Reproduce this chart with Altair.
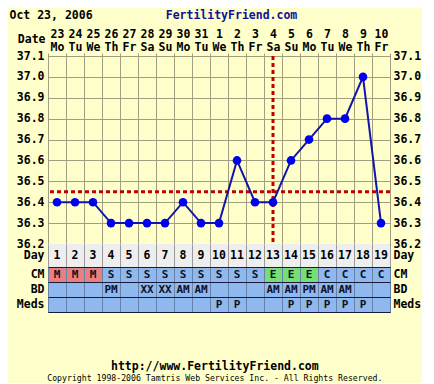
import altair as alt
import pandas as pd

# ---------------- data ----------------
days = list(range(1, 20))
dates = ["23", "24", "25", "26", "27", "28", "29", "30", "31", "1",
         "2", "3", "4", "5", "6", "7", "8", "9", "10"]
weekdays = ["Mo", "Tu", "We", "Th", "Fr", "Sa", "Su", "Mo", "Tu", "We",
            "Th", "Fr", "Sa", "Su", "Mo", "Tu", "We", "Th", "Fr"]
temps = [36.4, 36.4, 36.4, 36.3, 36.3, 36.3, 36.3, 36.4, 36.3, 36.3,
         36.6, 36.4, 36.4, 36.6, 36.7, 36.8, 36.8, 37.0, 36.3]
cm = ["M", "M", "M", "S", "S", "S", "S", "S", "S", "S",
      "S", "S", "E", "E", "E", "C", "C", "C", "C"]
bd = ["", "", "", "PM", "", "XX", "XX", "AM", "AM", "",
      "", "", "AM", "AM", "PM", "AM", "AM", "", ""]
meds = ["", "", "", "", "", "", "", "", "", "P",
        "P", "", "", "P", "P", "P", "P", "P", ""]
temp_ticks = [36.2, 36.3, 36.4, 36.5, 36.6, 36.7, 36.8, 36.9, 37.0, 37.1]
coverline = [36.45]
ovulation_day = 13
row_names = ["CM", "BD", "Meds"]
header_date = "Oct 23, 2006"
header_site = "FertilityFriend.com"
footer_url = "http://www.FertilityFriend.com"
footer_copy = "Copyright 1998-2006 Tamtris Web Services Inc. - All Rights Reserved."

# ---------------- tables ----------------
labels = [f"{d} {w}" for d, w in zip(dates, weekdays)]
tdf = pd.DataFrame({"day": days, "lab": labels, "temp": temps})
odf = tdf[tdf["day"] == ovulation_day]
cdf = pd.DataFrame({"cover": coverline})
ddf = pd.DataFrame({"day": days, "row": ["Day"] * len(days)})
recs = []
for name, vals in zip(row_names, [cm, bd, meds]):
    for d, v in zip(days, vals):
        recs.append({"day": d, "row": name, "val": v,
                     "kind": v if name == "CM" else "-"})
rdf = pd.DataFrame(recs)

FONT = "DejaVu Sans Mono"
GRID = "#A19F7E"
BG = "#FFFFCC"

# ---------------- temperature chart ----------------
xs = alt.Scale(type="band", paddingInner=0, paddingOuter=0)
x_top = alt.X(
    "lab:O", sort=labels, scale=xs,
    axis=alt.Axis(orient="top", title="Date", labelExpr="split(datum.label, ' ')",
                  labelAngle=0, labelAlign="center", labelLineHeight=13,
                  labelPadding=14, tickBand="extent", ticks=True, tickSize=3,
                  tickColor=GRID, grid=True, gridColor=GRID, domain=False,
                  titleX=-3, titleY=-17, titleAlign="right", titleBaseline="middle",
                  titleAngle=0))
ys = alt.Scale(domain=[36.2, 37.1], nice=False, zero=False)
y_left = alt.Y(
    "temp:Q", scale=ys,
    axis=alt.Axis(orient="left", values=temp_ticks, format=".1f", grid=True,
                  gridColor=GRID, ticks=False, domain=False, labelPadding=4,
                  title=header_date, titleX=-39, titleY=-41, titleAngle=0,
                  titleAlign="left", titleBaseline="middle"))
y_right = alt.Y(
    "temp:Q", scale=ys,
    axis=alt.Axis(orient="right", values=temp_ticks, format=".1f", grid=False,
                  ticks=False, domain=False, labelPadding=3,
                  title=header_site, titleX=-159, titleY=-41, titleAngle=0,
                  titleAlign="center", titleBaseline="middle", titleColor="#10109A"))

hline = alt.Chart(cdf).mark_rule(color="#C00000", strokeDash=[4, 3], strokeWidth=3).encode(
    y=alt.Y("cover:Q", scale=ys, axis=None))
vline = alt.Chart(odf).mark_rule(color="#C00000", strokeDash=[4, 3], strokeWidth=3).encode(
    x=x_top)
line = alt.Chart(tdf).mark_line(color="#1414A8", strokeWidth=2).encode(x=x_top, y=y_left)
pts = alt.Chart(tdf).mark_circle(color="#0000F0", size=75, opacity=1).encode(x=x_top, y=y_right)

temp_chart = alt.layer(hline, vline, line, pts).resolve_axis(y="independent").properties(
    width=342, height=188)

# ---------------- day row ----------------
x_tab = alt.X("day:O", scale=xs,
              axis=alt.Axis(labels=False, ticks=False, domain=False, grid=True,
                            gridColor="#9A9A9A", tickBand="extent", title=None, zindex=1))
day_rect = alt.Chart(ddf).mark_rect(color="#EEEEEE").encode(
    x=x_tab,
    y=alt.Y("row:N", axis=alt.Axis(orient="left", title=None, ticks=False, domain=False,
                                   labelPadding=4)))
day_text = alt.Chart(ddf).mark_text(font=FONT, fontWeight="bold", fontSize=11.5,
                                    color="black").encode(
    x=x_tab,
    y=alt.Y("row:N", axis=alt.Axis(orient="right", title=None, ticks=False, domain=False,
                                   labelPadding=3)),
    text="day:O")
day_chart = alt.layer(day_rect, day_text).resolve_axis(y="independent").properties(
    width=342, height=23)

# ---------------- CM / BD / Meds table ----------------
x_tab2 = alt.X("day:O", scale=xs,
               axis=alt.Axis(labels=False, ticks=False, domain=False, grid=True,
                             gridColor="#6682AA", tickBand="extent", title=None, zindex=1))
tab_rect = alt.Chart(rdf).mark_rect().encode(
    x=x_tab2,
    y=alt.Y("row:N", sort=row_names,
            axis=alt.Axis(orient="left", title=None, ticks=False, domain=False,
                          labelPadding=4, grid=True, gridColor="#1A1A3A",
                          tickBand="extent", zindex=1)),
    color=alt.Color("kind:N", legend=None,
                    scale=alt.Scale(domain=["M", "S", "E", "C", "-"],
                                    range=["#E88080", "#8EB8EE", "#77DD77",
                                           "#8EB8EE", "#8EB8EE"])))
tab_text = alt.Chart(rdf).mark_text(font=FONT, fontWeight="bold", fontSize=11,
                                    color="#101020").encode(
    x=x_tab2,
    y=alt.Y("row:N", sort=row_names,
            axis=alt.Axis(orient="right", title=None, ticks=False, domain=False,
                          labelPadding=3)),
    text="val:N")
tab_chart = alt.layer(tab_rect, tab_text).resolve_axis(y="independent").properties(
    width=342, height=45)

chart = alt.vconcat(
    temp_chart, day_chart, tab_chart, spacing=0, bounds="flush",
    title=alt.TitleParams(footer_url, subtitle=footer_copy, orient="bottom",
                          anchor="middle", offset=48, font=FONT, fontSize=11.5,
                          fontWeight="bold", color="black", subtitleFont=FONT,
                          subtitleFontSize=8.2, subtitleColor="black",
                          subtitlePadding=3)
).properties(
    padding={"left": 0, "top": 0, "right": 0, "bottom": 0}
).configure(background=BG).configure_view(
    stroke="#333333", strokeWidth=1
).configure_axis(
    labelFont=FONT, labelFontWeight="bold", labelFontSize=11.5, labelColor="black",
    titleFont=FONT, titleFontWeight="bold", titleFontSize=11.5, titleColor="black"
)

chart.save("out.html", embed_options={"renderer": "svg", "actions": False})
